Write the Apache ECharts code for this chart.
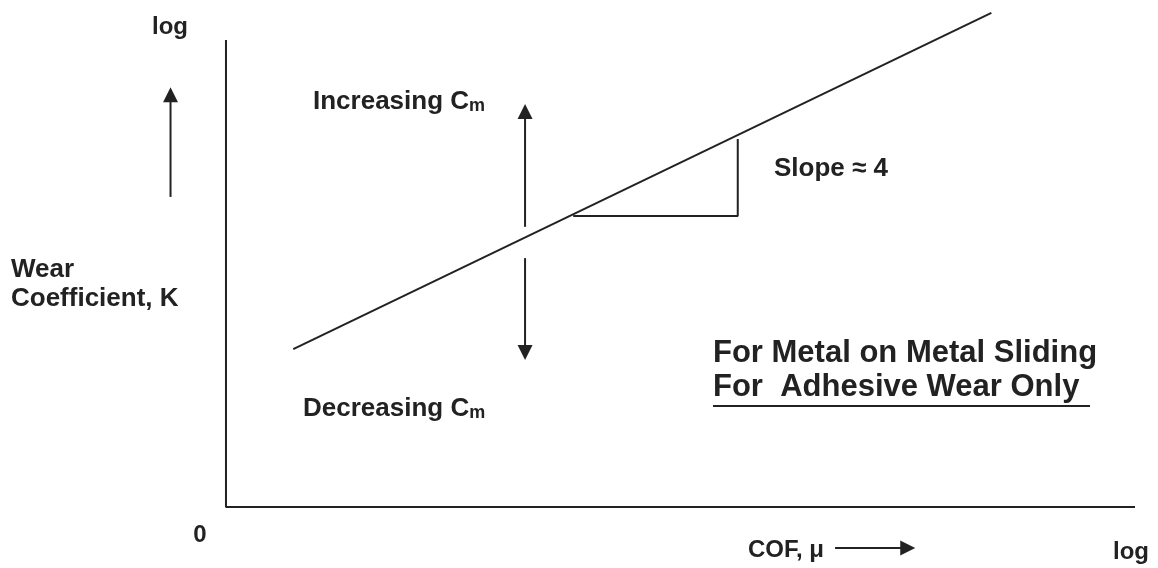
<!DOCTYPE html>
<html>
<head>
<meta charset="utf-8">
<script src="https://cdn.jsdelivr.net/npm/echarts@6/dist/echarts.min.js"></script>
<style>
html, body { margin: 0; padding: 0; background: #fff; }
#main { width: 1158px; height: 568px; }
</style>
</head>
<body>
<div id="main"></div>
<script>
// schematic units (log COF on x, log K on y)
var axesFrame = [[0, 10], [0, 0], [10, 0]];
var trendLine = [[0.74, 3.38], [8.42, 10.58]];
var slopeTriangle = [[3.82, 6.23], [5.63, 6.23], [5.63, 7.88]];
// arrow shafts
var cmUpArrow = [[3.29, 6.00], [3.29, 8.50]];
var cmDownArrow = [[3.29, 5.33], [3.29, 3.30]];
var yDirArrow = [[-0.61, 6.64], [-0.61, 8.85]];
var xDirArrow = [[6.70, -0.88], [7.45, -0.88]];
// arrow heads: [x, y, rotation]
var arrowHeads = [
	[3.29, 8.47, 0],
	[3.29, 3.31, 180],
	[-0.61, 8.83, 0],
	[7.50, -0.88, -90]
];

var ink = '#222';
var font = '"Liberation Sans", Arial, sans-serif';

var txt = function (x, y, text, size, extra) {
	var style = {
		x: x, y: y, text: text,
		fill: ink,
		font: 'bold ' + size + 'px ' + font,
		align: 'left',
		verticalAlign: 'middle'
	};
	if (extra) {
		for (var k in extra) style[k] = extra[k];
	}
	return { type: 'text', z: 10, style: style };
};

var cmRich = {
	m: { fontSize: 18, fontWeight: 'bold', fontFamily: font, fill: ink, verticalAlign: 'bottom' }
};

var lineSeries = function (pts) {
	return {
		type: 'line',
		data: pts,
		symbol: 'none',
		clip: false,
		silent: true,
		lineStyle: { color: ink, width: 2 }
	};
};

var hiddenAxis = function (min, max) {
	return {
		type: 'value', min: min, max: max,
		axisLine: { show: false },
		axisTick: { show: false },
		axisLabel: { show: false },
		splitLine: { show: false }
	};
};

var chart = echarts.init(document.getElementById('main'));
chart.setOption({
	animation: false,
	// whole canvas is the plot area; the drawn frame is the axes series
	grid: { left: 0, right: 0, top: 0, bottom: 0 },
	xAxis: hiddenAxis(-2.486, 10.253),
	yAxis: hiddenAxis(-1.306, 10.857),
	series: [
		lineSeries(axesFrame),
		lineSeries(trendLine),
		lineSeries(slopeTriangle),
		lineSeries(cmUpArrow),
		lineSeries(cmDownArrow),
		lineSeries(yDirArrow),
		lineSeries(xDirArrow),
		{
			type: 'scatter',
			clip: false,
			silent: true,
			symbol: 'triangle',
			symbolSize: [15, 15],
			symbolRotate: function (val) { return val[2]; },
			itemStyle: { color: ink, opacity: 1 },
			data: arrowHeads
		}
	],
	graphic: [
		txt(152, 27, 'log', 24),
		txt(313, 102, 'Increasing C{m|m}', 26, { rich: cmRich }),
		txt(303, 409, 'Decreasing C{m|m}', 26, { rich: cmRich }),
		txt(774, 169, 'Slope ≈ 4', 26),
		txt(11, 270, 'Wear', 26),
		txt(11, 299, 'Coefficient, K', 26),
		txt(713, 353, 'For Metal on Metal Sliding', 31),
		txt(713, 387, 'For  Adhesive Wear Only', 31),
		{ type: 'line', z: 10, shape: { x1: 713, y1: 406, x2: 1090, y2: 406 }, style: { stroke: ink, lineWidth: 2 } },
		txt(200, 535, '0', 24, { align: 'center' }),
		txt(748, 550, 'COF, μ', 24),
		txt(1113, 552, 'log', 24)
	]
});
</script>
</body>
</html>
